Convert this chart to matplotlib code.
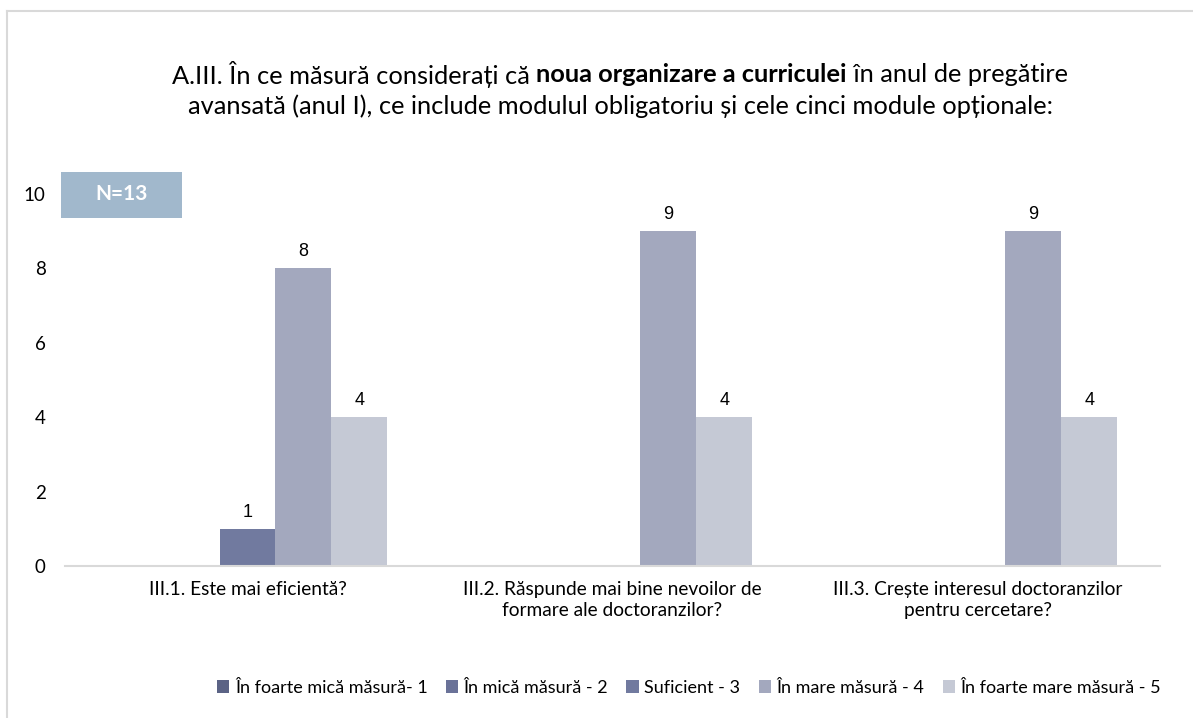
import matplotlib
matplotlib.use("Agg")
import matplotlib.pyplot as plt
from matplotlib.patches import Rectangle
import numpy as np

categories = [
    "III.1. Este mai eficientă?",
    "III.2. Răspunde mai bine nevoilor de\nformare ale doctoranzilor?",
    "III.3. Crește interesul doctoranzilor\npentru cercetare?",
]
series_names = [
    "În foarte mică măsură- 1",
    "În mică măsură - 2",
    "Suficient - 3",
    "În mare măsură - 4",
    "În foarte mare măsură - 5",
]
values = [
    [0, 0, 0],
    [0, 0, 0],
    [1, 0, 0],
    [8, 9, 9],
    [4, 4, 4],
]
colors = ["#5b6385", "#6a7298", "#717a9f", "#a3a8be", "#c5c9d5"]
yticks = [0, 2, 4, 6, 8, 10]

FONT = "Lato"
W, H = 1193, 718
fig = plt.figure(figsize=(W / 100, H / 100), dpi=100)
fig.patch.set_facecolor("white")

# outer chart frame
fig.add_artist(plt.Line2D([7.5 / W, 7.5 / W], [0, 1 - 10.5 / H], transform=fig.transFigure,
                          color="#d9d9d9", lw=1.5))
fig.add_artist(plt.Line2D([7.5 / W, 1], [1 - 10.5 / H, 1 - 10.5 / H], transform=fig.transFigure,
                          color="#d9d9d9", lw=1.5))

ax = fig.add_axes([65 / W, 1 - 566 / H, (1160 - 65) / W, (566 - 194) / H])
x = np.arange(len(categories))
bw = 0.153
for i, (name, vals, c) in enumerate(zip(series_names, values, colors)):
    pos = x + (i - 2) * bw
    ax.bar(pos, vals, width=bw, color=c, label=name, zorder=2)
    for p, v in zip(pos, vals):
        if v > 0:
            ax.text(p, v + 0.22, str(v), ha="center", va="bottom",
                    fontsize=13, family="Liberation Sans", color="#000000")

ax.set_xlim(-0.5, len(categories) - 0.5)
ax.set_ylim(0, 10)
ax.set_yticks(yticks)
ax.set_yticklabels([str(t) for t in yticks], family=FONT, fontsize=13.5)
ax.set_xticks(x)
ax.set_xticklabels(categories, family=FONT, fontsize=13.8, linespacing=1.3)
ax.tick_params(axis="both", length=0)
ax.tick_params(axis="y", pad=14)
ax.tick_params(axis="x", pad=11)
for s in ["top", "right", "left"]:
    ax.spines[s].set_visible(False)
ax.spines["bottom"].set_color("#d9d9d9")
ax.spines["bottom"].set_linewidth(1.5)

# N box
fig.add_artist(Rectangle((61 / W, 1 - 218 / H), 121 / W, 46 / H, transform=fig.transFigure,
                         facecolor="#a1b8cc", edgecolor="none"))
fig.text(121.5 / W, 1 - 194 / H, "N=13", ha="center", va="center", color="white",
         fontsize=15, fontweight="bold", family=FONT)

# title with a bold segment in the first line
parts = [("A.III. În ce măsură considerați că ", "normal"),
         ("noua organizare a curriculei", "bold"),
         (" în anul de pregătire", "normal")]
fig.canvas.draw()
r = fig.canvas.get_renderer()
texts = [fig.text(0, 1 - 75 / H, s, fontsize=18.3, fontweight=w, family=FONT,
                  va="center", ha="left") for s, w in parts]
widths = [t.get_window_extent(r).width for t in texts]
start = 620 - sum(widths) / 2
for t, wd in zip(texts, widths):
    t.set_x(start / W)
    start += wd
fig.text(620 / W, 1 - 106 / H,
         "avansată (anul I), ce include modulul obligatoriu și cele cinci module opționale:",
         fontsize=18.3, family=FONT, ha="center", va="center")

leg = fig.legend(loc="center", bbox_to_anchor=(689 / W, 1 - 688 / H), ncol=5, frameon=False,
                 prop={"family": FONT, "size": 13}, handlelength=0.7, handleheight=0.7,
                 handletextpad=0.3, columnspacing=1.0)

fig.savefig("out.png", dpi=100, facecolor="white")
